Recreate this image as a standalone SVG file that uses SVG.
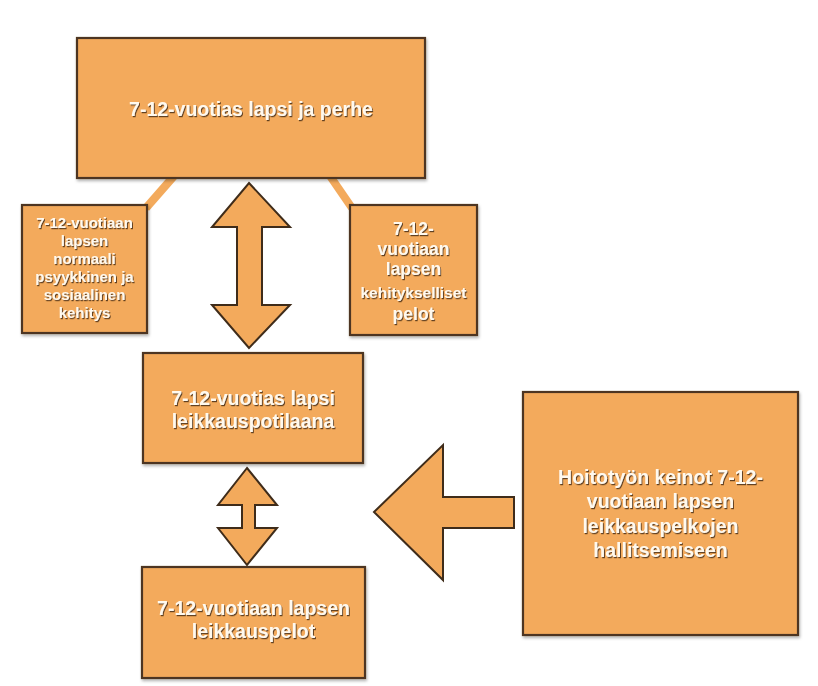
<svg xmlns="http://www.w3.org/2000/svg" width="818" height="686" viewBox="0 0 818 686">
<defs>
<filter id="ts" x="-10%" y="-30%" width="120%" height="160%">
<feDropShadow dx="1" dy="1.2" stdDeviation="0.7" flood-color="#4a2e12" flood-opacity="0.85"/>
</filter>
<filter id="bs" x="-5%" y="-5%" width="110%" height="110%">
<feDropShadow dx="1" dy="2" stdDeviation="1.5" flood-color="#000" flood-opacity="0.3"/>
</filter>
</defs>
<style>
.box{fill:#F3AA5C;stroke:#4d3520;stroke-width:2.2;filter:url(#bs)}
.arrow{fill:#F3AA5C;stroke:#3f2c1a;stroke-width:2;stroke-linejoin:miter}
.link{stroke:#F3AA5C;stroke-width:8;fill:none}
text{font-family:"Liberation Sans",Arial,sans-serif;font-weight:bold;fill:#FFF9EE;text-anchor:middle;filter:url(#ts)}
.t19{font-size:19.5px}
.t15{font-size:15px}
.t17{font-size:17.5px}
</style>
<rect width="818" height="686" fill="#ffffff"/>
<g id="connectors">
<line class="link" x1="174" y1="176" x2="146" y2="208"/>
<line class="link" x1="330" y1="176" x2="352" y2="208"/>
<polygon class="arrow" points="249,183 290,227 262,227 262,305 290,305 249,348 212,305 237,305 237,227 212,227"/>
<polygon class="arrow" points="247,468 277,505 255,505 255,528 277,528 247,565 218,528 242,528 242,505 218,505"/>
<polygon class="arrow" points="374,512 443,445 443,497 514,497 514,528 443,528 443,580"/>
</g>
<g id="node-top">
<rect class="box" x="77" y="38" width="348" height="140"/>
<text class="t19" x="251" y="116">7-12-vuotias lapsi ja perhe</text>
</g>
<g id="node-left">
<rect class="box" x="22" y="205" width="125" height="128"/>
<text class="t15" x="84.5" y="228">7-12-vuotiaan</text>
<text class="t15" x="84.5" y="246">lapsen</text>
<text class="t15" x="84.5" y="264">normaali</text>
<text class="t15" x="84.5" y="282">psyykkinen ja</text>
<text class="t15" x="84.5" y="300">sosiaalinen</text>
<text class="t15" x="84.5" y="318">kehitys</text>
</g>
<g id="node-right">
<rect class="box" x="350" y="205" width="127" height="130"/>
<text class="t17" x="413.5" y="235">7-12-</text>
<text class="t17" x="413.5" y="255">vuotiaan</text>
<text class="t17" x="413.5" y="275">lapsen</text>
<text x="413.5" y="298" style="font-size:15.5px">kehitykselliset</text>
<text class="t17" x="413.5" y="320">pelot</text>
</g>
<g id="node-middle">
<rect class="box" x="143" y="353" width="220" height="110"/>
<text class="t19" x="253" y="405">7-12-vuotias lapsi</text>
<text class="t19" x="253" y="428">leikkauspotilaana</text>
</g>
<g id="node-bottom">
<rect class="box" x="142" y="567" width="223" height="111"/>
<text class="t19" x="253.5" y="615">7-12-vuotiaan lapsen</text>
<text class="t19" x="253.5" y="638">leikkauspelot</text>
</g>
<g id="node-nursing">
<rect class="box" x="523" y="392" width="275" height="243"/>
<text class="t19" x="660.5" y="484">Hoitotyön keinot 7-12-</text>
<text class="t19" x="660.5" y="508">vuotiaan lapsen</text>
<text class="t19" x="660.5" y="533">leikkauspelkojen</text>
<text class="t19" x="660.5" y="557">hallitsemiseen</text>
</g>
</svg>
